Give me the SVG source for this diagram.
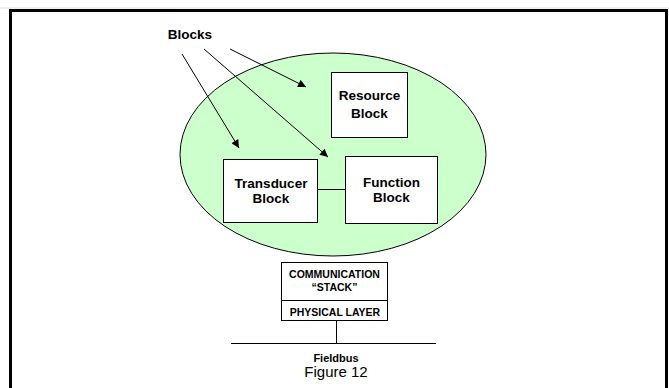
<svg xmlns="http://www.w3.org/2000/svg" width="669" height="388" viewBox="0 0 669 388">
<defs>
<style>
.box{fill:#fff;stroke:#000;stroke-width:1}
.lbl{font-family:"Liberation Sans",Arial,sans-serif;font-weight:bold;font-size:13.5px;text-anchor:middle;fill:#000}
.sm{font-family:"Liberation Sans",Arial,sans-serif;font-weight:bold;font-size:10.5px;text-anchor:middle;fill:#000}
.ln{stroke:#000;stroke-width:1;fill:none}
</style>
<marker id="ah" viewBox="0 0 10 10" refX="10" refY="5" markerWidth="10" markerHeight="8" markerUnits="userSpaceOnUse" orient="auto">
<path d="M0,0 L10,5 L0,10 z" fill="#000"/>
</marker>
</defs>
<rect width="669" height="388" fill="#fff"/>
<line x1="0" y1="8" x2="669" y2="8" stroke="#ddd" stroke-width="1"/>
<path d="M10.5,392 V10.5 H666.5 V392" fill="none" stroke="#000" stroke-width="3"/>
<g id="device">
<ellipse cx="333" cy="154.5" rx="153" ry="101.5" fill="#ccffcc" stroke="#000" stroke-width="1"/>
</g>
<g id="blocks-label">
<text class="lbl" x="190" y="39">Blocks</text>
</g>
<g id="resource">
<rect class="box" x="331.5" y="72.5" width="76" height="65"/>
<text class="lbl" x="369.5" y="100">Resource</text>
<text class="lbl" x="369.5" y="118">Block</text>
</g>
<g id="transducer">
<rect class="box" x="223.5" y="159.5" width="94" height="63"/>
<text class="lbl" x="271" y="188">Transducer</text>
<text class="lbl" x="271" y="203">Block</text>
</g>
<g id="function">
<rect class="box" x="345.5" y="156.5" width="92" height="67"/>
<text class="lbl" x="391.5" y="187">Function</text>
<text class="lbl" x="391.5" y="202">Block</text>
</g>
<g id="stack">
<rect class="box" x="281.5" y="262.5" width="106" height="58"/>
<line class="ln" x1="281.5" y1="300.5" x2="387.5" y2="300.5"/>
<text class="sm" x="334.5" y="278">COMMUNICATION</text>
<text class="sm" x="334.5" y="291">“STACK”</text>
<text class="sm" x="335" y="316">PHYSICAL LAYER</text>
</g>
<g id="fieldbus">
<line class="ln" x1="231" y1="343.5" x2="436" y2="343.5"/>
<text class="lbl" x="336" y="362" style="font-size:11px">Fieldbus</text>
<text x="336" y="377" font-family="Liberation Sans,Arial,sans-serif" font-size="15" text-anchor="middle">Figure 12</text>
</g>
<g id="connectors">
<line class="ln" x1="182" y1="54" x2="239" y2="148" marker-end="url(#ah)"/>
<line class="ln" x1="204" y1="49" x2="328" y2="157" marker-end="url(#ah)"/>
<line class="ln" x1="230" y1="49" x2="306" y2="87" marker-end="url(#ah)"/>
<line class="ln" x1="317.5" y1="189.5" x2="345.5" y2="189.5"/>
<line class="ln" x1="336.5" y1="320.5" x2="336.5" y2="343.5"/>
</g>
</svg>
